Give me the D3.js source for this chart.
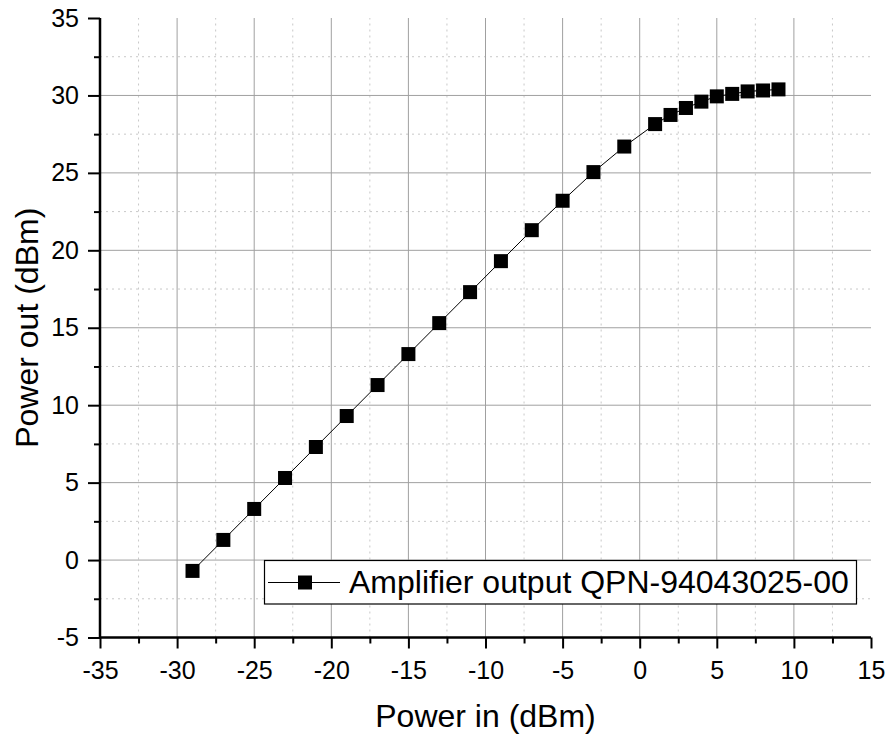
<!DOCTYPE html>
<html><head><meta charset="utf-8">
<script src="https://cdn.jsdelivr.net/npm/d3@7"></script>
<style>body{margin:0;background:#fff}svg{display:block}text{font-family:"Liberation Sans",Arial,sans-serif}</style>
</head><body>
<script>
const powerIn = [-29,-27,-25,-23,-21,-19,-17,-15,-13,-11,-9,-7,-5,-3,-1,1,2,3,4,5,6,7,8,9];
const powerOut = [-0.7,1.3,3.3,5.3,7.3,9.3,11.3,13.3,15.3,17.3,19.3,21.3,23.2,25.05,26.7,28.15,28.74,29.19,29.6,29.94,30.1,30.26,30.32,30.39];
const xTicks = [-35,-30,-25,-20,-15,-10,-5,0,5,10,15];
const yTicks = [-5,0,5,10,15,20,25,30,35];
const seriesName = "Amplifier output QPN-94043025-00";

const W=891,H=740;
const svg=d3.select("body").append("svg").attr("width",W).attr("height",H);
const x=d3.scaleLinear().domain([-35,15]).range([100,871]);
const y=d3.scaleLinear().domain([-5,35]).range([637.5,18]);
const xMinor=d3.range(-32.5,15,5), yMinor=d3.range(-2.5,35,5);

const g=svg.append("g");
g.selectAll(".vmin").data(xMinor).join("line").attr("x1",d=>x(d)).attr("x2",d=>x(d)).attr("y1",y(-5)).attr("y2",y(35))
 .attr("stroke","#c8c8c8").attr("stroke-dasharray","2,4").attr("stroke-width",1);
g.selectAll(".hmin").data(yMinor).join("line").attr("y1",d=>y(d)).attr("y2",d=>y(d)).attr("x1",x(-35)).attr("x2",x(15))
 .attr("stroke","#c8c8c8").attr("stroke-dasharray","2,4").attr("stroke-width",1);
g.selectAll(".vmaj").data(xTicks.slice(1,-1)).join("line").attr("x1",d=>x(d)).attr("x2",d=>x(d)).attr("y1",y(-5)).attr("y2",y(35))
 .attr("stroke","#a0a0a0").attr("stroke-width",1);
g.selectAll(".hmaj").data(yTicks.slice(1,-1)).join("line").attr("y1",d=>y(d)).attr("y2",d=>y(d)).attr("x1",x(-35)).attr("x2",x(15))
 .attr("stroke","#a0a0a0").attr("stroke-width",1);

const fmt=d=>d<0?"-"+Math.abs(d):String(d);
const xAxis=svg.append("g").attr("transform",`translate(0,${y(-5)})`)
 .call(d3.axisBottom(x).tickValues(xTicks).tickSize(11).tickPadding(13).tickFormat(fmt));
svg.append("g").attr("transform",`translate(0,${y(-5)})`)
 .call(d3.axisBottom(x).tickValues(xMinor).tickSize(6).tickFormat("")).select(".domain").remove();
const yAxis=svg.append("g").attr("transform",`translate(${x(-35)},0)`)
 .call(d3.axisLeft(y).tickValues(yTicks).tickSize(12).tickPadding(9).tickFormat(fmt));
svg.append("g").attr("transform",`translate(${x(-35)},0)`)
 .call(d3.axisLeft(y).tickValues(yMinor).tickSize(6).tickFormat("")).select(".domain").remove();
svg.selectAll(".domain").attr("stroke","#000").attr("stroke-width",2.5);
svg.selectAll(".tick line").attr("stroke","#000").attr("stroke-width",2);
svg.selectAll(".tick text").style("font-size","25px").attr("fill","#000").style("font-family","'Liberation Sans', Arial, sans-serif");
xAxis.selectAll(".domain").attr("d",`M${x(-35)},0H${x(15)}`);
yAxis.selectAll(".domain").attr("d",`M0,${y(-5)}V${y(35)}`);

svg.append("path").datum(powerIn.map((d,i)=>[d,powerOut[i]]))
 .attr("d",d3.line().x(d=>x(d[0])).y(d=>y(d[1]))).attr("fill","none").attr("stroke","#000").attr("stroke-width",1);
const ms=14;
svg.selectAll(".pt").data(powerIn.map((d,i)=>[d,powerOut[i]])).join("rect")
 .attr("x",d=>x(d[0])-ms/2).attr("y",d=>y(d[1])-ms/2).attr("width",ms).attr("height",ms).attr("fill","#000");

svg.append("text").attr("x",(x(-35)+x(15))/2).attr("y",727).attr("text-anchor","middle").style("font-size","32px").text("Power in (dBm)");
svg.append("text").attr("transform",`translate(38,${(y(-5)+y(35))/2}) rotate(-90)`).attr("text-anchor","middle").style("font-size","32px").text("Power out (dBm)");

const lg=svg.append("g");
lg.append("rect").attr("x",264.5).attr("y",560.5).attr("width",592).attr("height",43.5).attr("fill","#fff").attr("stroke","#000").attr("stroke-width",1.2);
lg.append("line").attr("x1",268).attr("x2",340).attr("y1",582.5).attr("y2",582.5).attr("stroke","#000").attr("stroke-width",1);
lg.append("rect").attr("x",298).attr("y",575.5).attr("width",14).attr("height",14).attr("fill","#000");
lg.append("text").attr("x",349).attr("y",593).style("font-size","32px").text(seriesName);
</script>
</body></html>
